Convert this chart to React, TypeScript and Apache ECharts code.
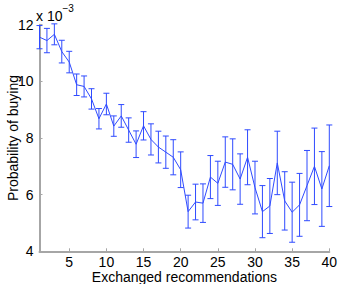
import React, { useEffect, useRef } from "react";
import * as echarts from "echarts";

const xValues = [1,2,3,4,5,6,7,8,9,10,11,12,13,14,15,16,17,18,19,20,21,22,23,24,25,26,27,28,29,30,31,32,33,34,35,36,37,38,39,40];
const meanValues = [11.56,11.44,11.66,11.05,10.68,9.88,9.82,9.38,8.68,9.20,8.42,8.78,8.28,7.78,8.43,7.95,7.68,7.50,7.32,6.88,5.40,5.74,5.70,6.62,6.40,7.15,7.07,6.55,7.32,6.25,5.40,5.60,7.12,5.78,5.38,5.64,6.32,7.00,6.20,7.02];
const errValues = [0.41,0.43,0.37,0.40,0.38,0.38,0.37,0.36,0.36,0.38,0.36,0.40,0.43,0.47,0.50,0.55,0.56,0.57,0.62,0.63,0.58,0.63,0.68,0.76,0.78,0.89,0.90,0.89,0.97,0.93,0.92,0.97,1.12,1.03,1.06,1.11,1.24,1.35,1.32,1.44];
const xTicks = [5,10,15,20,25,30,35,40];
const yTicks = [4,6,8,10,12];
const xTitle = "Exchanged recommendations";
const yTitle = "Probability of buying";

const BLUE = "#2f4bff";
const AXIS = "#a6a6a6";
const FONT = "Liberation Sans, Arial, Helvetica, sans-serif";

export default function App() {
  const ref = useRef<HTMLDivElement>(null);
  useEffect(() => {
    if (!ref.current) return;
    const chart = echarts.init(ref.current, null, { renderer: "svg" });
    const lineData = xValues.map((x, i) => [x, meanValues[i]]);
    const errData = xValues.map((x, i) => [x, meanValues[i] - errValues[i], meanValues[i] + errValues[i]]);
    chart.setOption({
      animation: false,
      backgroundColor: "#ffffff",
      textStyle: { fontFamily: FONT },
      grid: { left: 39.5, right: 10.7, top: 24.7, bottom: 32.7, outerBoundsMode: "none", containLabel: false },
      xAxis: {
        type: "value",
        min: 1,
        max: 40,
        name: xTitle,
        nameLocation: "middle",
        nameGap: 19,
        nameMoveOverlap: false,
        nameTextStyle: { color: "#000", fontSize: 14, lineHeight: 13, fontFamily: FONT },
        axisLine: { show: true, lineStyle: { color: AXIS, width: 2 } },
        axisTick: { show: true, inside: true, length: 3, customValues: xTicks, lineStyle: { color: AXIS, width: 1 } },
        axisLabel: { show: true, customValues: xTicks, color: "#000", fontSize: 14, lineHeight: 12, margin: 5, fontFamily: FONT },
        splitLine: { show: false },
      },
      yAxis: {
        type: "value",
        min: 4,
        max: 12,
        interval: 2,
        name: yTitle,
        nameLocation: "middle",
        nameGap: 20,
        nameMoveOverlap: false,
        nameTextStyle: { color: "#000", fontSize: 14, fontFamily: FONT },
        axisLine: { show: true, lineStyle: { color: AXIS, width: 2 } },
        axisTick: { show: true, inside: true, length: 3, customValues: yTicks, lineStyle: { color: AXIS, width: 1 } },
        axisLabel: { show: true, customValues: yTicks, color: "#000", fontSize: 14, margin: 6, fontFamily: FONT },
        splitLine: { show: false },
      },
      graphic: [
        {
          type: "text",
          left: 36,
          top: 3,
          style: {
            text: "{a|x 10}{b|−3}",
            rich: {
              a: { fontSize: 14, fill: "#000", fontFamily: FONT, padding: [6, 0, 0, 0] },
              b: { fontSize: 10, fill: "#000", fontFamily: FONT, verticalAlign: "top" },
            },
          },
        },
      ],
      series: [
        {
          type: "line",
          data: lineData,
          showSymbol: false,
          symbol: "none",
          lineStyle: { color: BLUE, width: 1 },
          itemStyle: { color: BLUE },
          z: 3,
        },
        {
          type: "custom",
          data: errData,
          encode: { x: 0, y: [1, 2] },
          clip: false,
          z: 2,
          renderItem: (params: any, api: any) => {
            const x = api.value(0);
            const lo = api.coord([x, api.value(1)]);
            const hi = api.coord([x, api.value(2)]);
            const w = 3;
            const style = { stroke: BLUE, lineWidth: 1 };
            return {
              type: "group",
              children: [
                { type: "line", shape: { x1: lo[0], y1: lo[1], x2: hi[0], y2: hi[1] }, style },
                { type: "line", shape: { x1: lo[0] - w, y1: lo[1], x2: lo[0] + w, y2: lo[1] }, style },
                { type: "line", shape: { x1: hi[0] - w, y1: hi[1], x2: hi[0] + w, y2: hi[1] }, style },
              ],
            };
          },
        },
      ],
    });
    return () => chart.dispose();
  }, []);
  return (
    <div
      ref={ref}
      style={{ position: "fixed", left: 0, top: 0, width: 340, height: 284, background: "#fff" }}
    />
  );
}
